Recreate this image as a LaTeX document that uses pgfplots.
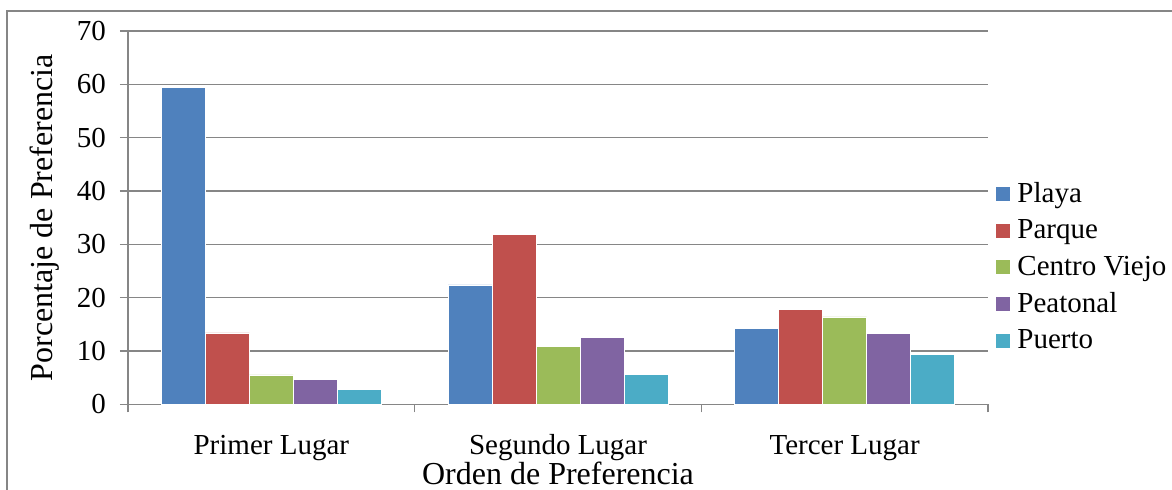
\documentclass[border=0pt]{standalone}
\usepackage{fontspec}
\setmainfont{Liberation Serif}
\usepackage{pgfplots}
\pgfplotsset{compat=1.18}

\definecolor{cPlaya}{HTML}{4F81BD}
\definecolor{cParque}{HTML}{C0504D}
\definecolor{cCentro}{HTML}{9BBB59}
\definecolor{cPeatonal}{HTML}{8064A2}
\definecolor{cPuerto}{HTML}{4BACC6}
\definecolor{gridgray}{HTML}{868686}

\begin{document}
\begin{tikzpicture}
\begin{axis}[
    at={(64pt,42.85pt)}, anchor=south west,
    scale only axis,
    width=430pt, height=186.65pt,
    ybar=0pt, bar width=22pt,
    xmin=-0.5, xmax=2.5,
    ymin=0, ymax=70,
    ytick={0,10,...,70},
    xtick={-0.5,0.5,1.5,2.5},
    x tick label as interval,
    xticklabels={Primer Lugar, Segundo Lugar, Tercer Lugar},
    axis lines=left,
    axis line style={-, draw=gridgray, line width=0.75pt},
    tick style={draw=gridgray, line width=0.75pt},
    major tick length=4pt,
    tick align=outside,
    ymajorgrids,
    grid style={draw=gridgray, line width=0.75pt},
    /pgf/number format/assume math mode=true,
    tick label style={font=\fontsize{14.5}{16}\selectfont},
    yticklabel style={anchor=east, xshift=-3.5pt},
    xticklabel style={anchor=base, yshift=-21pt},
    xlabel={Orden de Preferencia},
    ylabel={Porcentaje de Preferencia},
    every axis x label/.style={at={(axis description cs:0.5,0)}, anchor=base, yshift=-40pt, font=\fontsize{16}{18}\selectfont},
    every axis y label/.style={at={(axis description cs:0,0.5)}, rotate=90, anchor=base, yshift=38pt, font=\fontsize{16}{18}\selectfont},
    legend style={at={(1.0005,0.368)}, anchor=west, draw=none, fill=none,
        font=\fontsize{14.5}{16}\selectfont, row sep=5.2pt,
        nodes={inner sep=1pt}},
    legend cell align=left,
    legend image code/.code={\fill[#1] (0pt,-3.75pt) rectangle (7.5pt,3.75pt);
        \path (10pt,0pt);},
    every axis plot/.append style={draw=white, line width=0.3pt},
]
\addplot[fill=cPlaya] coordinates {(0,59.4) (1,22.4) (2,14.25)};
\addplot[fill=cParque] coordinates {(0,13.4) (1,31.8) (2,17.75)};
\addplot[fill=cCentro] coordinates {(0,5.5) (1,10.8) (2,16.4)};
\addplot[fill=cPeatonal] coordinates {(0,4.6) (1,12.5) (2,13.25)};
\addplot[fill=cPuerto] coordinates {(0,2.8) (1,5.6) (2,9.4)};
\legend{Playa, Parque, Centro Viejo, Peatonal, Puerto}
\end{axis}
\draw[gridgray, line width=0.75pt] (3.5pt,-5pt) rectangle (600pt,239.5pt);
\pgfresetboundingbox
\useasboundingbox (0,0) rectangle (586pt,245pt);
\end{tikzpicture}
\end{document}
